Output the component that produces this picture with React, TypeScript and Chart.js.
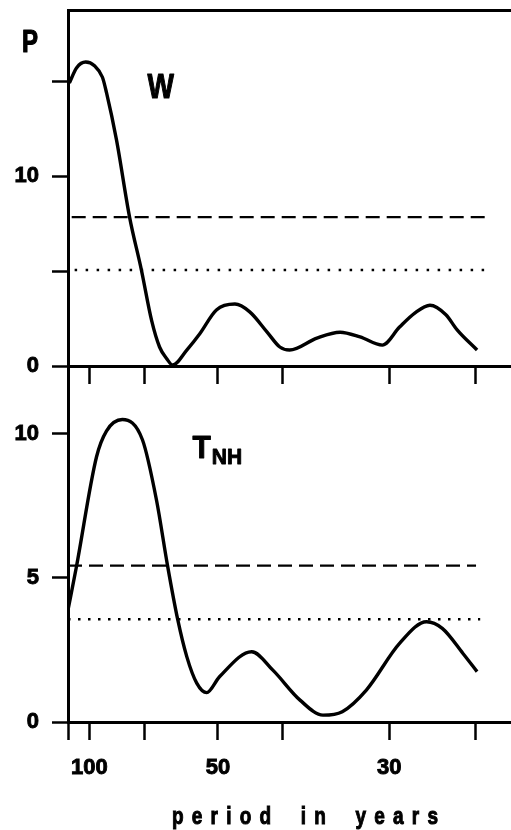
import React, { useEffect, useRef } from 'react';
import { Chart, registerables } from 'chart.js';

Chart.register(...registerables);

// ---- data (periods in years, spectral power P) ----
const tickPeriods = [120, 100, 70, 50, 40, 30, 25];
const labeledPeriods = [100, 50, 30];
const axisStartPeriod = 120;
const axisEndFreq = 42.8; // cycles per 1000 years at the right edge

const wPeriods = [118.5, 111, 103, 96.2, 90.8, 88.3, 82.6, 76.2, 71.2, 67.4, 64.7, 62.5, 60.7, 56.9, 53.8, 50.3, 46.9, 44.5, 42.0, 40.3, 39.1, 36.1, 33.9, 32.2, 30.5, 29.3, 28.3, 27.4, 26.5, 25.9, 24.9];
const wPower = [14.9, 15.7, 16.0, 15.8, 15.2, 14.4, 11.9, 7.84, 5.05, 2.4, 1.0, 0.4, 0.05, 0.84, 1.7, 2.95, 3.26, 2.85, 1.8, 1.0, 0.84, 1.47, 1.78, 1.53, 1.1, 2.05, 2.8, 3.2, 2.7, 1.9, 0.84];

const tPeriods = [120, 111.2, 94.8, 88.3, 79.6, 70.8, 65.7, 62.2, 59.3, 56.9, 54.5, 52.3, 49.7, 44.2, 41.2, 37.9, 35.5, 33.7, 31.7, 29.3, 27.6, 26.7, 25.6, 24.9];
const tPower = [3.89, 5.4, 9.2, 10.1, 10.5, 9.8, 7.7, 5.43, 3.57, 2.27, 1.35, 1.02, 1.57, 2.44, 1.8, 0.76, 0.24, 0.36, 1.11, 2.73, 3.48, 3.25, 2.38, 1.75];

// significance levels and their period spans [from, to]
const wDashedLevel = 7.84;
const wDashedSpan = [116, 24.5];
const wDottedLevel = 5.05;
const wDottedSpan = [113, 24.5];
const tDashedLevel = 5.43;
const tDashedSpan = [120, 24.95];
const tDottedLevel = 3.57;
const tDottedSpan = [120, 24.75];

const wYMax = 18.74;
const wYLabels = [0, 10];
const tYMax = 12.36;
const tYLabels = [0, 5, 10];

const freq = (p: number) => 1000 / p;
const FONT = '"Liberation Sans", Arial, sans-serif';

const textPlugin = {
  id: 'panelText',
  afterDraw(chart: any, _args: any, opts: any) {
    const ctx = chart.ctx;
    const xs = chart.scales.x;
    const ys = chart.scales.y;
    (opts.items || []).forEach((it: any) => {
      const px = it.pixel ? it.x : xs.getPixelForValue(freq(it.x));
      const py = it.pixel ? it.y : ys.getPixelForValue(it.y);
      ctx.save();
      ctx.fillStyle = '#000';
      ctx.strokeStyle = '#000';
      ctx.lineWidth = 0.9;
      ctx.lineJoin = 'round';
      ctx.textBaseline = 'alphabetic';
      ctx.textAlign = 'left';
      ctx.font = `bold ${it.size}px ${FONT}`;
      ctx.translate(px, py);
      ctx.scale(1, it.sy || 1);
      ctx.fillText(it.text, 0, 0);
      ctx.strokeText(it.text, 0, 0);
      if (it.sub) {
        const w = ctx.measureText(it.text).width;
        ctx.font = `bold ${it.subSize}px ${FONT}`;
        ctx.fillText(it.sub, w + 1, it.subDy);
        ctx.strokeText(it.sub, w + 1, it.subDy);
      }
      ctx.restore();
    });
  },
};

function lineSet(periods: number[], values: number[]) {
  return {
    data: periods.map((p, i) => ({ x: freq(p), y: values[i] })),
    borderColor: '#000',
    borderWidth: 3.4,
    pointRadius: 0,
    fill: false,
    cubicInterpolationMode: 'monotone' as const,
  };
}

function levelSet(level: number, span: number[], dash: number[], width: number) {
  return {
    data: span.map((p) => ({ x: freq(p), y: level })),
    borderColor: '#000',
    borderWidth: width,
    borderDash: dash,
    pointRadius: 0,
    fill: false,
    tension: 0,
  };
}

const tickFont = { family: FONT, size: 22, weight: 'bold' as const };

function makeConfig(panel: 'top' | 'bottom'): any {
  const isTop = panel === 'top';
  const datasets = isTop
    ? [
        lineSet(wPeriods, wPower),
        levelSet(wDashedLevel, wDashedSpan, [14, 7], 2.3),
        levelSet(wDottedLevel, wDottedSpan, [2.5, 8.5], 2.5),
      ]
    : [
        lineSet(tPeriods, tPower),
        levelSet(tDashedLevel, tDashedSpan, [14, 7], 2.3),
        levelSet(tDottedLevel, tDottedSpan, [2.5, 7.5], 2.5),
      ];
  const canvasH = isTop ? 395 : 474;
  const areaBottom = 366;
  const zeroPad = (s: any) => {
    s.paddingTop = 0;
    s.paddingBottom = 0;
    s.paddingLeft = 0;
    s.paddingRight = 0;
  };
  const scales: any = {
    x: {
      type: 'linear',
      position: 'bottom',
      min: freq(axisStartPeriod),
      max: axisEndFreq,
      afterBuildTicks: (s: any) => {
        s.ticks = tickPeriods.map((p) => ({ value: freq(p) }));
      },
      afterFit: (s: any) => {
        s.height = canvasH - areaBottom;
        zeroPad(s);
      },
      ticks: {
        autoSkip: false,
        maxRotation: 0,
        minRotation: 0,
        padding: 15,
        color: '#000',
        textStrokeColor: '#000',
        textStrokeWidth: 0.9,
        font: tickFont,
        callback: (v: number) => {
          if (isTop) return '';
          const p = Math.round(1000 / v);
          return labeledPeriods.includes(p) ? String(p) : '';
        },
      },
      grid: { drawOnChartArea: false, drawTicks: true, tickLength: 18, tickWidth: 2.5, tickColor: '#000' },
      border: { display: true, width: 3, color: '#000' },
    },
    y: {
      type: 'linear',
      min: 0,
      max: isTop ? wYMax : tYMax,
      afterFit: (s: any) => {
        s.width = 68;
        zeroPad(s);
      },
      ticks: {
        stepSize: 5,
        includeBounds: false,
        padding: 13,
        color: '#000',
        textStrokeColor: '#000',
        textStrokeWidth: 0.9,
        font: tickFont,
        callback: (v: number) => ((isTop ? wYLabels : tYLabels).includes(v) ? String(v) : ''),
      },
      grid: { drawOnChartArea: false, drawTicks: true, tickLength: 16, tickWidth: 2.5, tickColor: '#000' },
      border: { display: true, width: 3, color: '#000' },
    },
  };
  if (isTop) {
    scales.xTop = {
      type: 'linear',
      position: 'top',
      min: freq(axisStartPeriod),
      max: axisEndFreq,
      afterFit: (s: any) => {
        s.height = 0;
        zeroPad(s);
      },
      ticks: { display: false },
      grid: { drawOnChartArea: false, drawTicks: false },
      border: { display: true, width: 3, color: '#000' },
    };
  }
  const items = isTop
    ? [
        { text: 'P', x: 22, y: 52, pixel: true, size: 24, sy: 1.3 },
        { text: 'W', x: 68.9, y: 14.1, size: 28, sy: 1.25 },
      ]
    : [{ text: 'T', x: 55.5, y: 9.17, size: 30, sy: 1.05, sub: 'NH', subSize: 21, subDy: 6 }];
  return {
    type: 'line',
    data: { datasets },
    plugins: [textPlugin],
    options: {
      animation: false,
      responsive: false,
      maintainAspectRatio: false,
      layout: { padding: { top: 10, left: 0, right: 0, bottom: 0 } },
      plugins: {
        legend: { display: false },
        tooltip: { enabled: false },
        panelText: { items },
      },
      scales,
    },
  };
}

function Panel({ panel, top, height }: { panel: 'top' | 'bottom'; top: number; height: number }) {
  const ref = useRef<HTMLCanvasElement | null>(null);
  useEffect(() => {
    if (!ref.current) return;
    const chart = new Chart(ref.current, makeConfig(panel));
    return () => chart.destroy();
  }, [panel]);
  return (
    <canvas
      ref={ref}
      width={511}
      height={height}
      style={{ position: 'absolute', left: 0, top, width: 511, height }}
    />
  );
}

export default function App() {
  return (
    <div style={{ position: 'absolute', left: 0, top: 0, width: 511, height: 830, background: '#fff', overflow: 'hidden' }}>
      <Panel panel="top" top={0} height={395} />
      <Panel panel="bottom" top={356} height={474} />
      <div
        style={{
          position: 'absolute',
          left: 172,
          top: 808,
          fontFamily: FONT,
          fontWeight: 'bold',
          fontSize: 19,
          lineHeight: '20px',
          letterSpacing: '8.2px',
          wordSpacing: '8px',
          whiteSpace: 'nowrap',
          color: '#000',
          WebkitTextStroke: '0.8px #000',
          transform: 'scaleY(1.3)',
          transformOrigin: '0 16.6px',
        }}
      >
        period in years
      </div>
    </div>
  );
}
